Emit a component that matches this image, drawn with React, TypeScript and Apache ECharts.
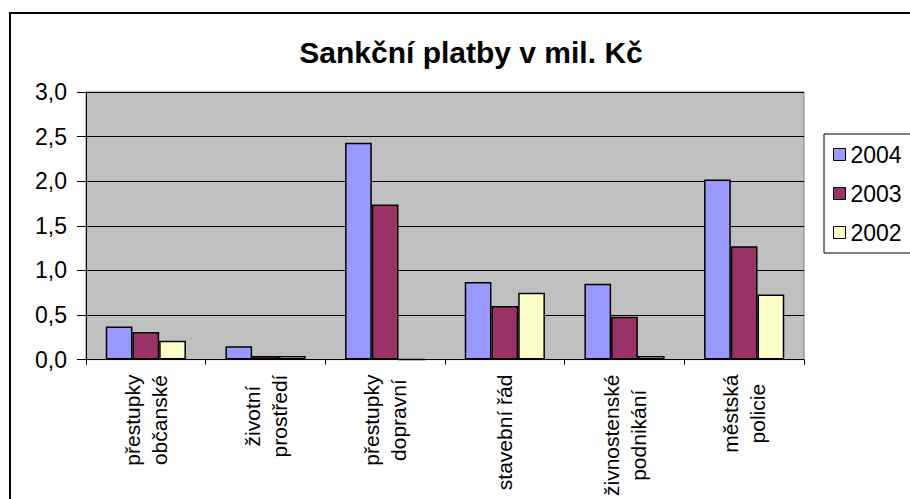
import React, { useEffect, useRef } from "react";
import * as echarts from "echarts";

const titleText = "Sankční platby v mil. Kč";
const categories = [
  "přestupky\nobčanské",
  "životní\nprostředí",
  "přestupky\ndopravní",
  "stavební řád",
  "živnostenské\npodnikání",
  "městská\npolicie",
];
const seriesNames = ["2004", "2003", "2002"];
const values2004 = [0.37, 0.15, 2.43, 0.87, 0.85, 2.02];
const values2003 = [0.31, 0.04, 1.74, 0.6, 0.48, 1.27];
const values2002 = [0.21, 0.04, 0, 0.75, 0.04, 0.73];
const seriesColors = ["#9999FF", "#993366", "#FFFFCC"];

const FONT = "Liberation Sans, Arial, sans-serif";

export default function App() {
  const ref = useRef<HTMLDivElement>(null);
  useEffect(() => {
    if (!ref.current) return;
    const chart = echarts.init(ref.current, undefined, { renderer: "svg" });
    const data = [values2004, values2003, values2002];
    chart.setOption({
      animation: false,
      backgroundColor: "#ffffff",
      textStyle: { fontFamily: FONT },
      title: {
        text: titleText,
        left: 466,
        top: 32,
        textAlign: "center",
        textStyle: { fontSize: 30, fontWeight: "bold", color: "#000", fontFamily: FONT },
      },
      graphic: [
        {
          type: "rect",
          shape: { x: 10, y: 13, width: 940, height: 520 },
          style: { fill: "none", stroke: "#000", lineWidth: 2 },
          z: 100,
        },
      ],
      legend: {
        orient: "vertical",
        left: 824,
        top: 134,
        padding: [9, 20, 9, 9],
        itemWidth: 12,
        itemHeight: 12,
        itemGap: 16,
        borderColor: "#000",
        borderWidth: 1,
        backgroundColor: "#fff",
        data: seriesNames.map((n) => ({ name: n, icon: "rect" })),
        textStyle: { fontSize: 23, color: "#000", fontFamily: FONT, padding: [0, 0, 0, 0] },
        itemStyle: { borderColor: "#000", borderWidth: 1 },
      },
      grid: {
        left: 86,
        top: 92,
        right: 106,
        bottom: 133,
        show: true,
        backgroundColor: "#C0C0C0",
        borderColor: "#808080",
        borderWidth: 1,
      },
      xAxis: {
        type: "category",
        data: categories,
        axisLine: { show: true, lineStyle: { color: "#000", width: 1 } },
        axisTick: { show: true, length: 5, lineStyle: { color: "#000" } },
        axisLabel: {
          rotate: 90,
          margin: 15,
          interval: 0,
          fontSize: 21,
          lineHeight: 27,
          color: "#000",
          fontFamily: FONT,
          formatter: (v: string) =>
            v
              .split("\n")
              .map((l) => `{c|${l}}`)
              .join("\n"),
          rich: {
            c: { align: "center", fontSize: 21, lineHeight: 27, color: "#000", fontFamily: FONT },
          },
        },
      },
      yAxis: {
        type: "value",
        min: 0,
        max: 3,
        interval: 0.5,
        axisLine: { show: true, lineStyle: { color: "#000", width: 1 } },
        axisTick: { show: true, length: 9, inside: false, lineStyle: { color: "#000" } },
        splitLine: { show: true, lineStyle: { color: "#000", width: 1 } },
        axisLabel: {
          margin: 19,
          fontSize: 23,
          color: "#000",
          fontFamily: FONT,
          formatter: (v: number) => v.toFixed(1).replace(".", ","),
        },
      },
      series: seriesNames.map((name, i) => ({
        name,
        type: "bar",
        data: data[i],
        barGap: "0%",
        barCategoryGap: "33%",
        itemStyle: { color: seriesColors[i], borderColor: "#000", borderWidth: 1.5 },
      })),
    });
    return () => chart.dispose();
  }, []);
  return (
    <div
      ref={ref}
      style={{ position: "absolute", left: 0, top: 0, width: 910, height: 499 }}
    />
  );
}
